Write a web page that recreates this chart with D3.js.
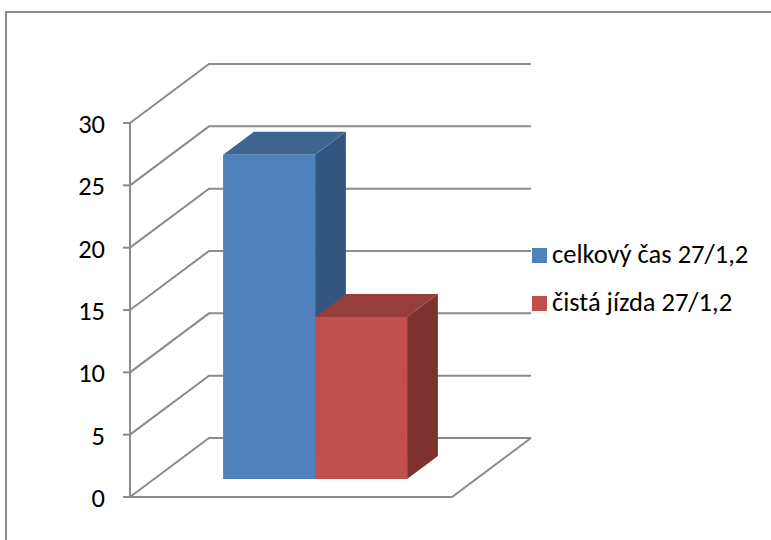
<!DOCTYPE html>
<html>
<head>
<meta charset="utf-8">
<script src="https://cdn.jsdelivr.net/npm/d3@7"></script>
<style>
  html, body { margin: 0; padding: 0; background: #fff; overflow: hidden; }
  text { font-family: Carlito, "Open Sans", "Noto Sans", sans-serif; fill: #000; }
</style>
</head>
<body>
<div id="chart"></div>
<script>
const seriesNames = ["celkový čas 27/1,2", "čistá jízda 27/1,2"];
const seriesValues = [26, 13];
const frontColors = ["#4f81bd", "#c0504d"];
const topColors = ["#3f6592", "#953e3b"];
const sideColors = ["#335680", "#7d3230"];
const yTicks = [0, 5, 10, 15, 20, 25, 30];

const width = 771, height = 540;
const gridColor = "#8c8c8c";
const lineWidth = 2;

const svg = d3.select("#chart").append("svg")
    .attr("width", width)
    .attr("height", height)
    .style("display", "block");

// outer chart border, only its top and left edges fall inside the page
svg.append("rect")
    .attr("x", 6).attr("y", 12)
    .attr("width", 800).attr("height", 560)
    .attr("fill", "#fff")
    .attr("stroke", gridColor)
    .attr("stroke-width", lineWidth);

// plot box: front left corner of the floor and how far the back wall is shifted
const y = d3.scaleLinear().domain([0, 30]).range([497, 123]);
const x = d3.scaleBand().domain(seriesNames).range([199, 383]).padding(0);
const depth = d3.scaleLinear().domain([0, 1]).range([0, 1]);
const shiftX = 79, shiftY = -59;
const floorLeft = 130, floorRight = 452;
const barFront = 0.305, barBack = 0.695;

function pt(px, value, z) {
    return [px + depth(z) * shiftX, y(value) + depth(z) * shiftY];
}
const line = d3.line();

// gridlines run from the left wall across the back wall
yTicks.forEach(t => {
    svg.append("path")
        .attr("d", line([pt(floorLeft, t, 0), pt(floorLeft, t, 1), pt(floorRight, t, 1)]))
        .attr("fill", "none")
        .attr("stroke", gridColor)
        .attr("stroke-width", lineWidth);
});

// floor outline
svg.append("path")
    .attr("d", line([pt(floorLeft, 0, 0), pt(floorRight, 0, 0), pt(floorRight, 0, 1)]))
    .attr("fill", "none")
    .attr("stroke", gridColor)
    .attr("stroke-width", lineWidth);

// value axis with its ticks
svg.append("line")
    .attr("x1", floorLeft).attr("x2", floorLeft)
    .attr("y1", y(30)).attr("y2", y(0))
    .attr("stroke", gridColor)
    .attr("stroke-width", lineWidth);

const tick = svg.selectAll(".tick")
    .data(yTicks)
    .enter().append("g")
    .attr("class", "tick");
tick.append("line")
    .attr("x1", floorLeft - 7).attr("x2", floorLeft)
    .attr("y1", d => y(d)).attr("y2", d => y(d))
    .attr("stroke", gridColor)
    .attr("stroke-width", lineWidth);
tick.append("text")
    .attr("x", 105)
    .attr("y", d => y(d) + 10)
    .attr("text-anchor", "end")
    .style("font-size", "26.5px")
    .text(d => d);

// bars, each one a front, top and side face
seriesNames.forEach((name, i) => {
    const x0 = x(name), x1 = x0 + x.bandwidth(), v = seriesValues[i];
    const bar = svg.append("g");
    bar.append("path")
        .attr("d", line([pt(x1, 0, barFront), pt(x1, 0, barBack), pt(x1, v, barBack), pt(x1, v, barFront)]) + "Z")
        .attr("fill", sideColors[i]);
    bar.append("path")
        .attr("d", line([pt(x0, v, barFront), pt(x1, v, barFront), pt(x1, v, barBack), pt(x0, v, barBack)]) + "Z")
        .attr("fill", topColors[i]);
    bar.append("path")
        .attr("d", line([pt(x0, 0, barFront), pt(x1, 0, barFront), pt(x1, v, barFront), pt(x0, v, barFront)]) + "Z")
        .attr("fill", frontColors[i]);
});

// legend
const legend = svg.selectAll(".legend")
    .data(seriesNames)
    .enter().append("g")
    .attr("class", "legend")
    .attr("transform", (d, i) => `translate(532,${248 + i * 48})`);
legend.append("rect")
    .attr("width", 15).attr("height", 15)
    .attr("fill", (d, i) => frontColors[i]);
legend.append("text")
    .attr("x", 20)
    .attr("y", 15)
    .style("font-size", "26.5px")
    .text(d => d);
</script>
</body>
</html>
